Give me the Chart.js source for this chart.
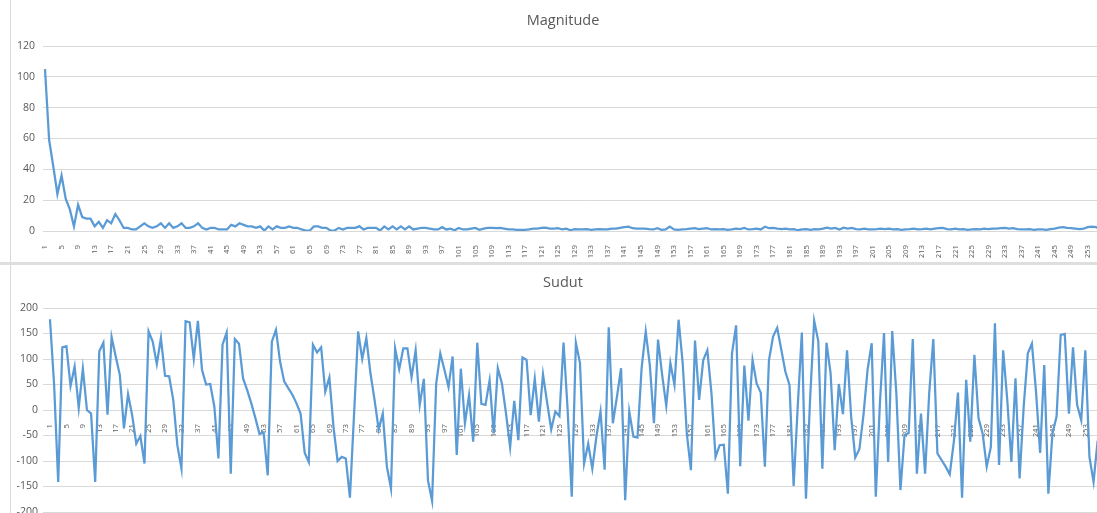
<!DOCTYPE html>
<html>
<head>
<meta charset="utf-8">
<script src="https://cdn.jsdelivr.net/npm/chart.js@4.4.1/dist/chart.umd.min.js"></script>
<style>
  html, body { margin: 0; padding: 0; background: #fff; overflow: hidden; }
  body { width: 1097px; height: 513px; position: relative; }
  .vline { position: absolute; left: 10px; width: 1px; background: #d9d9d9; }
  #band { position: absolute; left: 0; top: 262px; width: 1097px; height: 3px; background: #dedede; }
  canvas { position: absolute; left: 0; }
  #magChart { top: 0; }
  #sudutChart { top: 262px; }
</style>
</head>
<body>
<div class="vline" style="top:0;height:262px"></div>
<div class="vline" style="top:265px;height:248px"></div>
<div id="band"></div>
<canvas id="magChart" width="1126" height="260"></canvas>
<canvas id="sudutChart" width="1126" height="251"></canvas>
<script>
// sample index 1..256
const indexLabels = Array.from({ length: 256 }, (_, i) => String(i + 1))

const magnitude = [
  105, 59, 42, 24, 36, 21, 14, 3, 17, 9,
  8, 8, 3, 6, 2, 7, 5, 11, 7, 2,
  2, 1, 1, 3, 5, 3, 2, 3, 5, 2,
  5, 2, 3, 5, 2, 2, 3, 5, 2, 1,
  2, 2, 1, 1, 1, 4, 3, 5, 4, 3,
  3, 2, 3, 0.3, 3, 1, 3, 2, 2, 3,
  2, 2, 1, 0.3, 0.3, 3, 3, 2, 2, 0.3,
  0.3, 2, 1, 2, 2, 2, 3, 1, 2, 2,
  2, 0.3, 3, 1, 3, 1, 3, 1, 3, 1,
  1.5, 2, 2, 1.5, 1, 1, 2.5, 1, 1.5, 0.5,
  2, 1, 1, 1.5, 2, 0.8, 1.5, 2, 2, 1.8,
  2, 1.5, 1, 1, 0.8, 0.8, 0.8, 1, 1.5, 1.5,
  2, 2.2, 1.5, 1.5, 1.8, 1, 1.5, 0.5, 1.2, 1,
  1, 1.2, 0.8, 1, 1.2, 1, 1, 1.5, 1.5, 2,
  2.5, 2.8, 1.8, 1.5, 1.5, 1.5, 1.2, 1, 1.8, 0.8,
  1, 2.8, 1, 0.8, 1, 1.2, 1.5, 1.8, 1.2, 1.5,
  1.8, 1, 1.2, 1, 1.2, 0.8, 1, 1.5, 1.2, 2,
  1, 1.2, 1.5, 1, 2.8, 1.8, 2, 1.5, 1.2, 1.5,
  1, 1.2, 0.5, 1, 1.2, 0.8, 1.2, 1, 1.5, 2.2,
  1.5, 2, 1, 2.2, 1.5, 2, 1.2, 1, 1.5, 1,
  1, 1.2, 1.5, 1.2, 1.5, 1, 1.2, 0.8, 1, 1.2,
  1.5, 1, 1.2, 1.5, 1, 1.5, 1.8, 2, 1.2, 1,
  1.5, 1, 1.2, 0.8, 1, 1.2, 1, 1.5, 1.2, 1.5,
  1.5, 1.8, 2, 1.5, 1.8, 1.2, 1, 1, 1.2, 0.8,
  1, 1, 0.8, 1.2, 1.5, 2.2, 2.5, 2, 1.8, 1.5,
  1.2, 1.5, 2.5, 2.8, 2.5, 1.5
]

const sudut = [
  178, 50, -141, 123, 125, 47, 85, 4, 81, 0,
  -7, -141, 115, 132, -9, 143, 105, 69, -36, 31,
  -10, -66, -51, -105, 154, 134, 90, 141, 67, 66,
  20, -69, -115, 174, 172, 100, 175, 79, 50, 51,
  7, -95, 128, 152, -125, 139, 130, 62, 39, 13,
  -16, -47, -44, -128, 134, 157, 95, 56, 43, 30,
  13, -7, -84, -102, 128, 113, 123, 36, 64, -33,
  -100, -92, -95, -172, -10, 154, 100, 141, 72, 20,
  -38, -7, -111, -154, 121, 80, 121, 121, 64, 117,
  10, 61, -138, -178, 52, 111, 79, 45, 105, -88,
  81, -26, 29, -62, 132, 12, 10, 58, -46, 82,
  52, -7, -73, 18, -59, 103, 98, -10, 61, -23,
  70, 15, -38, -3, -12, 132, 0, -170, 132, 92,
  -105, -66, -115, -52, -3, -117, 162, -26, 26, 82,
  -177, -3, -52, -54, 82, 154, 88, -26, 138, 69,
  8, 92, 49, 177, 92, -46, -118, 136, 20, 98,
  117, 33, -92, -69, -68, -164, 111, 166, -110, 87,
  -21, 98, 52, 34, -111, 98, 144, 161, 118, 75,
  49, -149, 7, 152, -174, 20, 175, 135, -115, 132,
  72, -79, 51, -8, 117, -13, -93, -77, -10, 79,
  131, -170, 13, 151, -102, 155, 33, -157, -49, -45,
  139, -125, -7, -125, 33, 139, -85, -98, -111, -126,
  -62, 34, -172, 59, -62, 108, -16, -46, -111, -73,
  170, -108, 117, 20, -102, 62, -134, 7, 111, 130,
  36, -84, 88, -164, -46, -13, 147, 149, -7, 123,
  10, -20, 117, -92, -141, -60
]

const lineColor = "#5b9bd5"
const textColor = "#595959"
const gridColor = "#d9d9d9"

function xTick(v) {
  return Number.isInteger(v) && v % 4 === 0 && indexLabels[v] ? indexLabels[v] : ""
}

function makeChart(id, title, values, opts) {
  const ctx = document.getElementById(id).getContext("2d")
  return new Chart(ctx, {
    type: "line",
    data: {
      datasets: [
        {
          data: values.map((v, i) => ({ x: i, y: v })),
          borderColor: lineColor,
          borderWidth: 2.25,
          pointRadius: 0,
          tension: 0,
          fill: false,
        },
      ],
    },
    options: {
      responsive: false,
      animation: false,
      layout: { padding: { left: 0, right: 0, top: 0, bottom: opts.bottomPad } },
      plugins: {
        legend: { display: false },
        tooltip: { enabled: false },
        title: {
          display: true,
          text: title,
          color: textColor,
          font: { family: "Open Sans", size: 14.5, weight: "normal" },
          padding: { top: 12, bottom: 16.6 },
        },
      },
      scales: {
        x: {
          type: "linear",
          position: opts.xPosition,
          min: opts.xMin,
          max: opts.xMax,
          grid: { display: false },
          border: { display: false },
          ticks: {
            stepSize: 4,
            autoSkip: false,
            includeBounds: false,
            minRotation: 90,
            maxRotation: 90,
            padding: 6,
            color: textColor,
            font: { family: "Open Sans", size: 7.8 },
            callback: xTick,
          },
          afterFit: (s) => {
            if (opts.xHeight) s.height = opts.xHeight
            s.paddingLeft = 0
            s.paddingRight = 0
          },
        },
        y: {
          min: opts.yMin,
          max: opts.yMax,
          grid: { color: gridColor, drawTicks: false },
          border: { display: false },
          ticks: {
            stepSize: opts.yStep,
            padding: opts.yPad,
            color: textColor,
            font: { family: "Open Sans", size: 10.5 },
          },
          afterFit: (s) => {
            s.width = 43
            s.paddingTop = 0
            s.paddingBottom = 0
          },
        },
      },
    },
  })
}

// the canvas runs past the right edge of the window, like the cropped original
makeChart("magChart", "Magnitude", magnitude, {
  xMin: -0.483, xMax: 261.26, xPosition: "bottom", xHeight: 29,
  yMin: 0, yMax: 120, yStep: 20, yPad: 8, bottomPad: 0,
})

makeChart("sudutChart", "Sudut", sudut, {
  xMin: -1.7, xMax: 261.9, xPosition: { y: 0 }, xHeight: null,
  yMin: -200, yMax: 200, yStep: 50, yPad: 5, bottomPad: 1,
})
</script>
</body>
</html>
